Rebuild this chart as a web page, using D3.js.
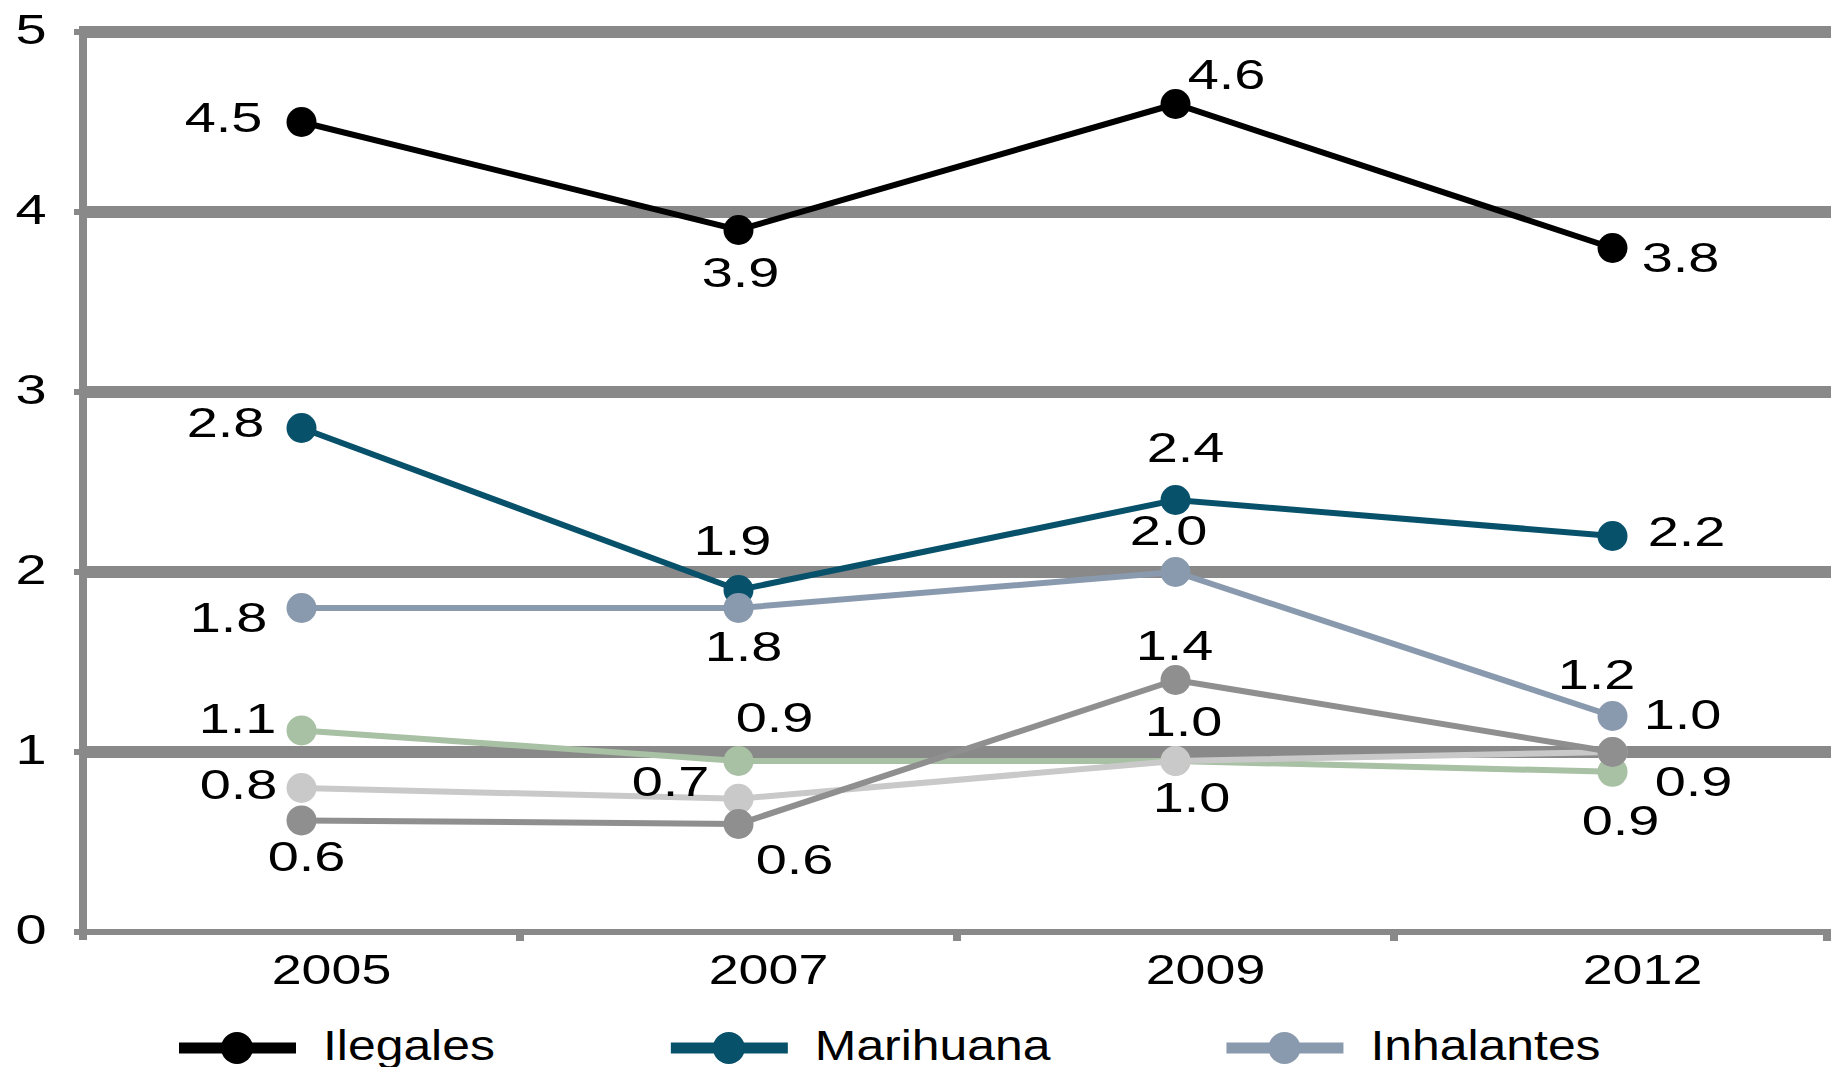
<!DOCTYPE html>
<html lang="es">
<head>
<meta charset="utf-8">
<title>Consumo de drogas 2005-2012</title>
<script src="https://cdn.jsdelivr.net/npm/d3@7/dist/d3.min.js"></script>
<style>
	html, body { margin: 0; padding: 0; background: #fff; overflow: hidden; }
	svg text { font-family: "Liberation Sans", Arial, sans-serif; fill: #000; }
</style>
</head>
<body>
<svg id="chart" width="1831" height="1067"></svg>
<script>
	// data
	var years = ["2005", "2007", "2009", "2012"];
	var yTicks = [0, 1, 2, 3, 4, 5];

	var ilegales   = [4.5, 3.9, 4.6, 3.8];
	var marihuana  = [2.8, 1.9, 2.4, 2.2];
	var inhalantes = [1.8, 1.8, 2.0, 1.2];
	var verde      = [1.12, 0.95, 0.95, 0.89];
	var grisClaro  = [0.8, 0.74, 0.95, 1.0];
	var grisOscuro = [0.62, 0.6, 1.4, 1.0];

	// printed value labels
	var lblIlegales   = ["4.5", "3.9", "4.6", "3.8"];
	var lblMarihuana  = ["2.8", "1.9", "2.4", "2.2"];
	var lblInhalantes = ["1.8", "1.8", "2.0", "1.2"];
	var lblVerde      = ["1.1", "0.9", "1.0", "0.9"];
	var lblGrisClaro  = ["0.8", "0.7", "1.0", "1.0"];
	var lblGrisOscuro = ["0.6", "0.6", "1.4", "0.9"];

	// where each label sits relative to its point (layout, not data)
	var offIlegales   = [[-78, -5], [2, 42], [51, -30], [68, 9]];
	var offMarihuana  = [[-76, -6], [-6, -50], [10, -53], [74, -5]];
	var offInhalantes = [[-73, 9], [5, 38], [-7, -42], [-16, -42]];
	var offVerde      = [[-64, -13], [36, -44], [8, -40], [8, 48]];
	var offGrisClaro  = [[-63, -4], [-68, -18], [16, 36], [70, -38]];
	var offGrisOscuro = [[5, 35], [56, 35], [-1, -35], [81, 29]];

	var series = [
		{name: "Ilegales",   values: ilegales,   labels: lblIlegales,   off: offIlegales,   color: "#000000", legend: true},
		{name: "Marihuana",  values: marihuana,  labels: lblMarihuana,  off: offMarihuana,  color: "#08516b", legend: true},
		{name: "Inhalantes", values: inhalantes, labels: lblInhalantes, off: offInhalantes, color: "#8a9aae", legend: true},
		{name: "Verde",      values: verde,      labels: lblVerde,      off: offVerde,      color: "#a8c0a3", legend: false},
		{name: "GrisClaro",  values: grisClaro,  labels: lblGrisClaro,  off: offGrisClaro,  color: "#c9c9c9", legend: false},
		{name: "GrisOscuro", values: grisOscuro, labels: lblGrisOscuro, off: offGrisOscuro, color: "#8f8f8f", legend: false}
	];

	var svg = d3.select("#chart");
	// note: "top" is taken by window.top, so use other names
	var plotL = 83, plotR = 1831, plotT = 32, plotB = 932;
	var gridColor = "#898989";
	var fs = 43;           // font size
	var capMid = fs * 0.358;
	var numScale = 1.3;    // the source text is stretched sideways
	var legScale = 1.16;

	var x = d3.scaleBand().domain(years).range([plotL, plotR]);
	var y = d3.scaleLinear().domain([0, 5]).range([plotB, plotT]);
	var cx = function(i) { return x(years[i]) + x.bandwidth() / 2; };

	// helper for stretched text centred at (px, py)
	function label(g, txt, px, py, sx, anchor) {
		g.append("text")
			.attr("transform", "translate(" + px + "," + py + ") scale(" + sx + ",1)")
			.attr("text-anchor", anchor || "middle")
			.attr("y", capMid)
			.style("font-size", fs + "px")
			.text(txt);
	}

	// grid lines
	svg.append("g").selectAll("line")
		.data(yTicks.filter(function(d) { return d > 0; }))
		.enter().append("line")
		.attr("x1", plotL).attr("x2", plotR)
		.attr("y1", function(d) { return y(d); })
		.attr("y2", function(d) { return y(d); })
		.attr("stroke", gridColor)
		.attr("stroke-width", 12);

	// left ticks
	svg.append("g").selectAll("line")
		.data(yTicks)
		.enter().append("line")
		.attr("x1", plotL - 9).attr("x2", plotL)
		.attr("y1", function(d) { return y(d); })
		.attr("y2", function(d) { return y(d); })
		.attr("stroke", gridColor)
		.attr("stroke-width", 6);

	// x axis line
	svg.append("line")
		.attr("x1", plotL - 9).attr("x2", plotR)
		.attr("y1", y(0)).attr("y2", y(0))
		.attr("stroke", gridColor).attr("stroke-width", 6);

	// bottom ticks between categories
	svg.append("g").selectAll("line")
		.data(years)
		.enter().append("line")
		.attr("x1", function(d) { return Math.min(x(d) + x.bandwidth(), plotR - 4); })
		.attr("x2", function(d) { return Math.min(x(d) + x.bandwidth(), plotR - 4); })
		.attr("y1", y(0)).attr("y2", y(0) + 9)
		.attr("stroke", gridColor).attr("stroke-width", 8);

	// y axis line
	svg.append("line")
		.attr("x1", plotL).attr("x2", plotL)
		.attr("y1", y(5) - 6).attr("y2", y(0) + 8)
		.attr("stroke", gridColor).attr("stroke-width", 8);

	// y tick labels
	var gy = svg.append("g");
	yTicks.forEach(function(t) { label(gy, t, 31, y(t) - 3, numScale); });

	// x tick labels
	var gx = svg.append("g");
	years.forEach(function(yr, i) { label(gx, yr, cx(i) + 30, 969, 1.25); });

	// series lines and markers
	var line = d3.line()
		.x(function(d, i) { return cx(i); })
		.y(function(d) { return y(d); });

	series.forEach(function(s) {
		var g = svg.append("g");
		g.append("path")
			.attr("d", line(s.values))
			.attr("fill", "none")
			.attr("stroke", s.color)
			.attr("stroke-width", 6);
		g.selectAll("circle")
			.data(s.values)
			.enter().append("circle")
			.attr("cx", function(d, i) { return cx(i); })
			.attr("cy", function(d) { return y(d); })
			.attr("r", 15)
			.attr("fill", s.color);
	});

	// value labels
	var gl = svg.append("g");
	series.forEach(function(s) {
		s.values.forEach(function(v, i) {
			label(gl, s.labels[i], cx(i) + s.off[i][0], y(v) + s.off[i][1], numScale);
		});
	});

	// legend (bottom, partly cut by the frame)
	var lg = svg.append("g");
	var lx = 179, ly = 1048;
	series.filter(function(s) { return s.legend; }).forEach(function(s) {
		lg.append("line")
			.attr("x1", lx).attr("x2", lx + 117)
			.attr("y1", ly).attr("y2", ly)
			.attr("stroke", s.color).attr("stroke-width", 11);
		lg.append("circle")
			.attr("cx", lx + 58).attr("cy", ly).attr("r", 16)
			.attr("fill", s.color);
		var t = lg.append("text")
			.attr("transform", "translate(" + (lx + 144) + "," + (1045 + capMid) + ") scale(" + legScale + ",1)")
			.style("font-size", fs + "px")
			.text(s.name);
		lx = lx + 144 + t.node().getComputedTextLength() * legScale + 176;
	});
</script>
</body>
</html>
